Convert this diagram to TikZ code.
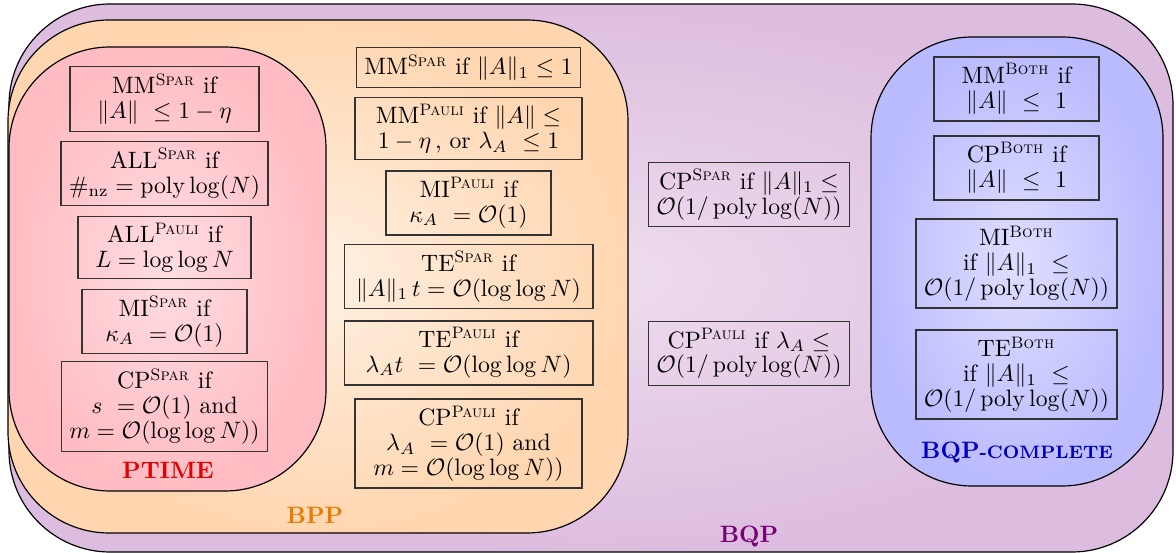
\documentclass[tikz,border=0pt]{standalone}
\usepackage{amsmath}
\usepackage{amssymb}
\usepackage{tikz}
\usetikzlibrary{shapes}
\usepackage{xcolor}

\definecolor{bqpout}{RGB}{221,189,223}
\definecolor{bqpin}{RGB}{238,221,238}
\definecolor{bppout}{RGB}{255,214,176}
\definecolor{bppin}{RGB}{255,240,226}
\definecolor{ptout}{RGB}{255,188,194}
\definecolor{ptin}{RGB}{255,221,225}
\definecolor{bqcout}{RGB}{186,186,255}
\definecolor{bqcin}{RGB}{222,222,255}
\definecolor{ptcol}{RGB}{228,0,0}
\definecolor{bppcol}{RGB}{232,124,0}
\definecolor{bqpcol}{RGB}{120,0,120}
\definecolor{bqccol}{RGB}{0,0,190}

\newcommand{\Spar}{\textsc{Spar}}
\newcommand{\Pauli}{\textsc{Pauli}}
\newcommand{\Both}{\textsc{Both}}
\newcommand{\nrm}[1]{\|#1\|}
\newcommand{\plog}{\operatorname{poly}\log}
\newcommand{\fakesc}[1]{{\fontsize{7.6}{9}\selectfont #1}}

\tikzset{
        region/.style = {draw, rounded corners=1.5cm, line width=0.5pt},
        cond/.style = {draw=black!80, line width=0.5pt, align=center,
            inner ysep=2.8pt, font=\fontsize{10}{10.5}\selectfont},
        classlabel/.style = {font=\bfseries},
    }

\begin{document}
\begin{tikzpicture}[x=0.422pt,y=0.422pt,yscale=-1,xscale=1]
\useasboundingbox (0,0) rectangle (1176,553);

%Rounded Rect: BQP
\draw [region, inner color=bqpin, outer color=bqpout] (9,4) rectangle (1173,552);
%Rounded Rect: BPP
\draw [region, inner color=bppin, outer color=bppout] (8,20) rectangle (628,533);
%Rounded Rect: PTIME
\draw [region, inner color=ptin, outer color=ptout] (9,47) rectangle (326,491);
%Rounded Rect: BQP-complete
\draw [region, inner color=bqcin, outer color=bqcout] (871,37) rectangle (1163,486);

% Text Node
\node [cond, minimum width=79.8pt] (pt1) at (164.5,99) {MM$^{\Spar}$ if\\ $\nrm{A}\ \leq 1 - \eta$};
% Text Node
\node [cond, minimum width=86.5pt] (pt2) at (164.5,173.5) {ALL$^{\Spar}$ if\\ $\#_{\mathrm{nz}} = \plog(N)$};
% Text Node
\node [cond, minimum width=73pt] (pt3) at (164.5,247.5) {ALL$^{\Pauli}$ if\\ $L = \log\log N$};
% Text Node
\node [cond, minimum width=69.6pt] (pt4) at (164.5,321.5) {MI$^{\Spar}$ if\\ $\kappa_A\ = \mathcal{O}(1)$};
% Text Node
\node [cond, minimum width=86.5pt] (pt5) at (164.5,406.5) {CP$^{\Spar}$ if\\ $s\ = \mathcal{O}(1)$ and\\ $m = \mathcal{O}(\log\log N))$};
% Text Node
\node [classlabel, text=ptcol] (ptime) at (168,470) {PTIME};

% Text Node
\node [cond, minimum width=91.6pt] (bpp1) at (468.5,67.5) {MM$^{\Spar}$ if $\nrm{A}_1 \leq 1$};
% Text Node
\node [cond, minimum width=95.8pt] (bpp2) at (468.5,128.5) {MM$^{\Pauli}$ if $\nrm{A} \leq$\\ $1 - \eta\,$, or $\lambda_A\ \leq 1$};
% Text Node
\node [cond, minimum width=69.6pt] (bpp3) at (468.5,203) {MI$^{\Pauli}$ if\\ $\kappa_A\ = \mathcal{O}(1)$};
% Text Node
\node [cond, minimum width=105pt] (bpp4) at (468.5,276.5) {TE$^{\Spar}$ if\\ $\nrm{A}_1\, t = \mathcal{O}(\log\log N)$};
% Text Node
\node [cond, minimum width=105pt] (bpp5) at (468.5,353) {TE$^{\Pauli}$ if\\ $\lambda_A t\ = \mathcal{O}(\log\log N)$};
% Text Node
\node [cond, minimum width=95.8pt] (bpp6) at (468.5,443.5) {CP$^{\Pauli}$ if\\ $\lambda_A\ = \mathcal{O}(1)$ and\\ $m = \mathcal{O}(\log\log N))$};
% Text Node
\node [classlabel, text=bppcol] (bpp) at (315,515) {BPP};

% Text Node
\node [cond, minimum width=79.3pt] (bqp1) at (749,194.5) {CP$^{\Spar}$ if $\nrm{A}_1 \leq$\\ $\mathcal{O}(1/\plog(N))$};
% Text Node
\node [cond, minimum width=79.3pt] (bqp2) at (749,353.5) {CP$^{\Pauli}$ if $\lambda_A \leq$\\ $\mathcal{O}(1/\plog(N))$};
% Text Node
\node [classlabel, text=bqpcol] (bqp) at (749,537) {BQP};

% Text Node
\node [cond, minimum width=69.6pt] (bqc1) at (1016.5,89) {MM$^{\Both}$ if\\ $\nrm{A}\ \leq\ 1$};
% Text Node
\node [cond, minimum width=69.6pt] (bqc2) at (1016.5,168) {CP$^{\Both}$ if\\ $\nrm{A}\ \leq\ 1$};
% Text Node
\node [cond, minimum width=79.8pt] (bqc3) at (1016.5,263.5) {MI$^{\Both}$\\ if $\nrm{A}_1\ \leq$\\ $\mathcal{O}(1/\plog(N))$};
% Text Node
\node [cond, minimum width=79.8pt] (bqc4) at (1016.5,374.5) {TE$^{\Both}$\\ if $\nrm{A}_1\ \leq$\\ $\mathcal{O}(1/\plog(N))$};
% Text Node
\node [classlabel, text=bqccol] (bqc) at (1017,453) {BQP\fakesc{-COMPLETE}};

\end{tikzpicture}
\end{document}
